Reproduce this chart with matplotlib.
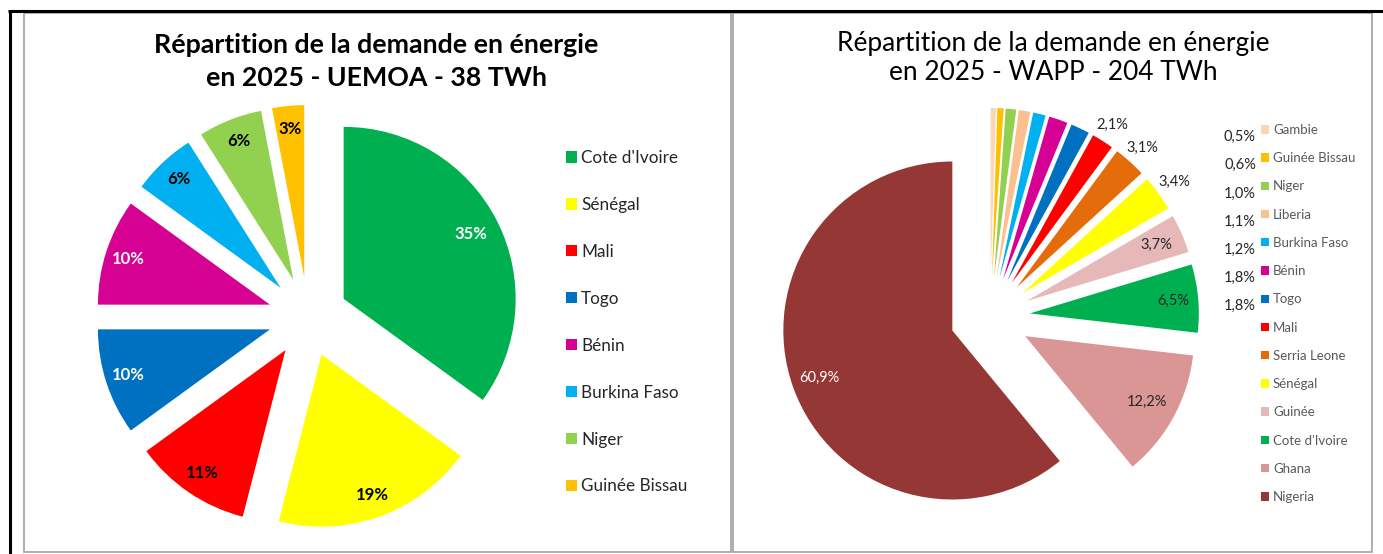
import matplotlib.pyplot as plt
from matplotlib.patches import Rectangle
import numpy as np

# UEMOA
uemoa_countries = ["Cote d'Ivoire", 'Sénégal', 'Mali', 'Togo', 'Bénin', 'Burkina Faso', 'Niger', 'Guinée Bissau']
uemoa_values = [35, 19, 11, 10, 10, 6, 6, 3]
uemoa_colors = ['#00B050', '#FFFF00', '#FF0000', '#0070C0', '#D60093', '#00B0F0', '#92D050', '#FFC000']
uemoa_text_colors = ['white', 'black', 'black', 'white', 'white', 'black', 'black', 'black']

# WAPP
wapp_countries = ['Gambie', 'Guinée Bissau', 'Niger', 'Liberia', 'Burkina Faso', 'Bénin', 'Togo', 'Mali',
                  'Serria Leone', 'Sénégal', 'Guinée', "Cote d'Ivoire", 'Ghana', 'Nigeria']
wapp_values = [0.5, 0.6, 1.0, 1.1, 1.2, 1.8, 1.8, 2.1, 3.1, 3.4, 3.7, 6.5, 12.2, 60.9]
wapp_colors = ['#FCD5B4', '#FFC000', '#92D050', '#FAC090', '#00B0F0', '#D60093', '#0070C0', '#FF0000',
               '#E46C0A', '#FFFF00', '#E6B9B8', '#00B050', '#D99694', '#953735']

plt.rcParams['font.family'] = ['Lato', 'DejaVu Sans']

W, H = 1383, 554
fig = plt.figure(figsize=(W / 100, H / 100), dpi=100)
ax = fig.add_axes([0, 0, 1, 1])

def Y(y):
    # image rows -> data coords
    return H - y

def fmt_fr(v):
    return ('%.1f' % v).replace('.', ',') + '%'

def place_label(wedge, dist, text, **kw):
    mid = np.deg2rad((wedge.theta1 + wedge.theta2) / 2)
    cx, cy = wedge.center
    r = wedge.r
    ax.text(cx + dist * r * np.cos(mid), cy + dist * r * np.sin(mid), text,
            ha='center', va='center', **kw)

# left pie (explode is in data units here, i.e. pixels)
wedges_l, _ = ax.pie(uemoa_values, colors=uemoa_colors, startangle=90, counterclock=False,
                     explode=[40] * len(uemoa_values), radius=172, center=(308, Y(317)),
                     wedgeprops=dict(linewidth=0))
for i, (w, v, tc) in enumerate(zip(wedges_l, uemoa_values, uemoa_text_colors)):
    place_label(w, 0.83 if i == 0 else 0.865, '%d%%' % v, color=tc, fontsize=12, fontweight='bold')

# right pie
wedges_r, _ = ax.pie(wapp_values, colors=wapp_colors, startangle=90, counterclock=False,
                     explode=[40] * len(wapp_values), radius=169, center=(990, Y(317)),
                     wedgeprops=dict(linewidth=0))
label_dist = {7: 1.11, 8: 1.11, 9: 1.115, 10: 0.84, 11: 0.85, 12: 0.82, 13: 0.835}
for i, d in label_dist.items():
    place_label(wedges_r[i], d, fmt_fr(wapp_values[i]),
                color='white' if i == 13 else '#262626', fontsize=10.5)
# small slices: labels moved next to the legend
for i in range(7):
    ax.text(1256, Y(137 + i * 28.2), fmt_fr(wapp_values[i]), ha='right', va='center',
            fontsize=10.5, color='#262626')

ax.set_xlim(0, W)
ax.set_ylim(0, H)
ax.axis('off')

# legends
leg1 = ax.legend(wedges_l, uemoa_countries, loc='upper left', bbox_to_anchor=(566, Y(150)),
                 bbox_transform=ax.transData, frameon=False, fontsize=12.3, borderpad=0,
                 borderaxespad=0, handlelength=0.64, handleheight=0.64, handletextpad=0.25,
                 labelspacing=1.81)
for t in leg1.get_texts():
    t.set_color('#262626')
ax.add_artist(leg1)
leg2 = ax.legend(wedges_r, wapp_countries, loc='upper left', bbox_to_anchor=(1261, Y(124)),
                 bbox_transform=ax.transData, frameon=False, fontsize=9.5, borderpad=0,
                 borderaxespad=0, handlelength=0.6, handleheight=0.6, handletextpad=0.3,
                 labelspacing=1.23)
for t in leg2.get_texts():
    t.set_color('#595959')

# titles
ax.text(376, Y(45), 'Répartition de la demande en énergie', ha='center', va='center',
        fontsize=19.3, fontweight='bold', color='black')
ax.text(376, Y(78), 'en 2025 - UEMOA - 38 TWh', ha='center', va='center',
        fontsize=19.3, fontweight='bold', color='black')
ax.text(1053, Y(43), 'Répartition de la demande en énergie', ha='center', va='center',
        fontsize=18.9, color='black')
ax.text(1053, Y(73), 'en 2025 - WAPP - 204 TWh', ha='center', va='center',
        fontsize=18.9, color='black')

# panel frames
ax.add_patch(Rectangle((24, Y(552)), 707, 539, fill=False, edgecolor='#A0A0A0', linewidth=1.2))
ax.add_patch(Rectangle((733, Y(552)), 639, 539, fill=False, edgecolor='#A0A0A0', linewidth=1.2))
ax.plot([8, 1383], [Y(10.5), Y(10.5)], color='black', linewidth=2.2, solid_capstyle='butt')
ax.plot([9.5, 9.5], [Y(10), 0], color='black', linewidth=2.2, solid_capstyle='butt')

fig.savefig('out.png', dpi=100)
